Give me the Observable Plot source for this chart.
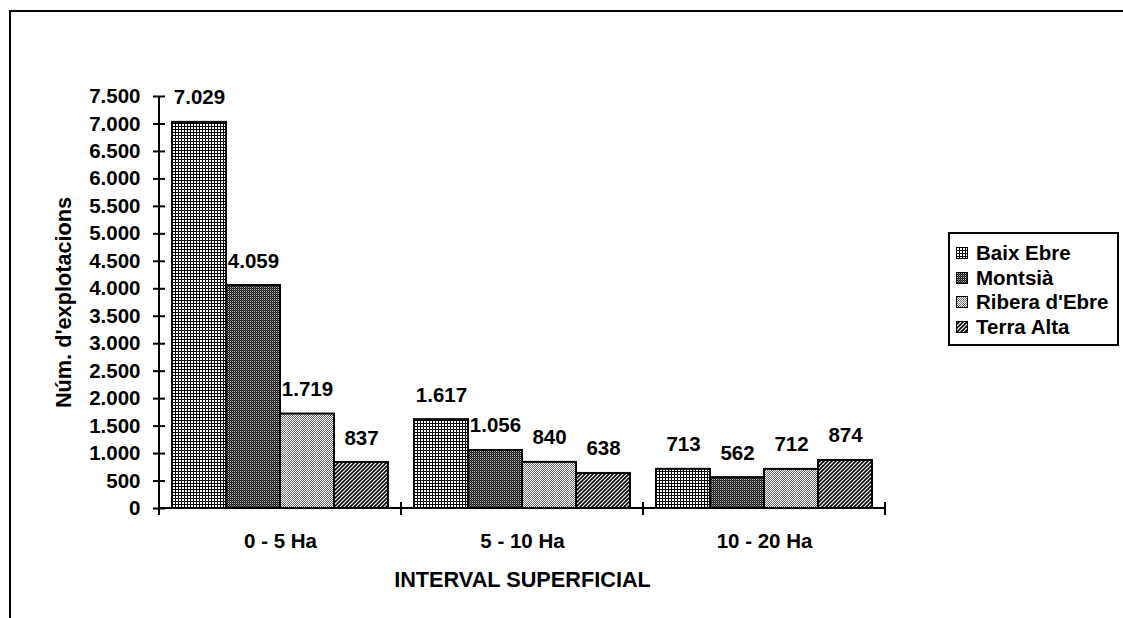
<!DOCTYPE html>
<html>
<head>
<meta charset="utf-8">
<script src="https://cdn.jsdelivr.net/npm/d3@7"></script>
<script src="https://cdn.jsdelivr.net/npm/@observablehq/plot@0.6"></script>
<style>
  html, body { margin: 0; padding: 0; background: #fff; overflow: hidden; width: 1123px; height: 618px; }
  #wrap { position: relative; width: 1123px; height: 618px; }
  #frame { position: absolute; left: 9px; top: 10px; width: 1300px; height: 800px; border-left: 2px solid #000; border-top: 2px solid #000; pointer-events: none; }
  #legend { position: absolute; left: 948px; top: 232px; width: 171px; height: 114px; box-sizing: border-box; border: 2px solid #000; background: #fff; padding: 7px 0 0 6px; font-family: 'Liberation Sans', Arial, sans-serif; font-weight: bold; font-size: 20.5px; }
  .item { display: flex; align-items: center; height: 24.5px; white-space: nowrap; }
  .item svg { margin-right: 8px; flex: none; }
</style>
</head>
<body>
<svg width="0" height="0" style="position:absolute">
  <defs>
    <pattern id="p0" width="3" height="3" patternUnits="userSpaceOnUse">
      <rect width="3" height="3" fill="#fff"/>
      <rect width="3" height="1" fill="#000"/>
      <rect width="1" height="3" fill="#000"/>
    </pattern>
    <pattern id="p1" width="2" height="2" patternUnits="userSpaceOnUse">
      <rect width="2" height="2" fill="#111"/>
      <rect x="1" y="1" width="1" height="1" fill="#bbb"/>
      <rect x="0" y="0" width="1" height="1" fill="#555"/>
    </pattern>
    <pattern id="p2" width="2" height="2" patternUnits="userSpaceOnUse">
      <rect width="2" height="2" fill="#fff"/>
      <rect x="0" y="0" width="1" height="1" fill="#6a6a6a"/>
      <rect x="1" y="1" width="1" height="1" fill="#6a6a6a"/>
    </pattern>
    <pattern id="p3" width="4" height="4" patternUnits="userSpaceOnUse">
      <rect width="4" height="4" fill="#fff"/>
      <path d="M-1,5 L5,-1 M-1,1 L1,-1 M3,5 L5,3" stroke="#000" stroke-width="1.6"/>
    </pattern>
  </defs>
</svg>
<div id="wrap">
  <div id="chart"></div>
  <div id="frame"></div>
  <div id="legend"></div>
</div>
<script>
// ---- data ----
const groups = ["0 - 5 Ha", "5 - 10 Ha", "10 - 20 Ha"];
const series = ["Baix Ebre", "Montsià", "Ribera d'Ebre", "Terra Alta"];
const baixEbre  = [7029, 1617, 713];
const montsia   = [4059, 1056, 562];
const riberaEbre = [1719, 840, 712];
const terraAlta = [837, 638, 874];
const yTicks = [0, 500, 1000, 1500, 2000, 2500, 3000, 3500, 4000, 4500, 5000, 5500, 6000, 6500, 7000, 7500];
const patterns = ["url(#p0)", "url(#p1)", "url(#p2)", "url(#p3)"];

const seriesValues = [baixEbre, montsia, riberaEbre, terraAlta];
const data = [];
groups.forEach((g, gi) => series.forEach((s, si) => data.push({group: g, series: s, value: seriesValues[si][gi]})));

const fmt = d3.formatLocale({decimal: ",", thousands: ".", grouping: [3], currency: ["", ""]}).format(",");
const FONT = "'Liberation Sans', Arial, sans-serif";
const FS = 20.5;   // tick labels, data labels, category labels
const FT = 21.7;   // axis titles

const chart = Plot.plot({
  width: 1123,
  height: 618,
  marginLeft: 158,
  marginRight: 238,
  marginTop: 96,
  marginBottom: 110,
  style: {fontFamily: FONT, fontWeight: "bold", fontSize: FS + "px", color: "#000", background: "transparent", overflow: "visible"},
  fx: {domain: groups, padding: 0},
  x: {domain: series, paddingInner: 0, paddingOuter: 0.24, axis: null},
  y: {domain: [0, 7500]},
  color: {domain: series, range: patterns},
  marks: [
    Plot.barY(data, {fx: "group", x: "series", y: "value", fill: "series", stroke: "#000", strokeWidth: 2}),
    Plot.text(data, {fx: "group", x: "series", y: "value", text: d => fmt(d.value), lineAnchor: "bottom", dy: -18, fontSize: FS, fontWeight: "bold", fill: "#000"}),
    Plot.axisY({ticks: yTicks, tickSize: 12, dx: 6, tickFormat: () => "", strokeWidth: 2, label: null}),
    Plot.axisY({ticks: yTicks, tickSize: 0, tickPadding: 19, tickFormat: fmt, fontSize: FS, fontWeight: "bold", fill: "#000", label: null}),
    Plot.axisY({ticks: [], tickSize: 0, fontSize: FT, fontWeight: "bold", fill: "#000",
      label: "Núm. d'explotacions", labelArrow: "none", labelAnchor: "center", labelOffset: 104}),
    Plot.axisFx({anchor: "bottom", tickSize: 0, tickPadding: 25, fontSize: FS, fontWeight: "bold", fill: "#000", label: null}),
    Plot.axisFx({anchor: "bottom", tickSize: 0, tickFormat: () => "", fontSize: FT, fontWeight: "bold", fill: "#000",
      label: "INTERVAL SUPERFICIAL", labelAnchor: "center", labelOffset: 78})
  ]
});
document.getElementById("chart").appendChild(chart);

// axis lines and category boundary ticks, positioned from the chart's own scales
const fx = chart.scale("fx"), y = chart.scale("y");
const x0 = fx.apply(groups[0]);
const xEnd = fx.apply(groups[groups.length - 1]) + fx.bandwidth;
const yBase = y.apply(0), yTop = y.apply(yTicks[yTicks.length - 1]);
const svg = d3.select(chart.tagName.toLowerCase() === "svg" ? chart : chart.querySelector("svg"));
const g = svg.append("g").attr("stroke", "#000").attr("stroke-width", 2);
g.append("line").attr("x1", x0).attr("x2", x0).attr("y1", yTop).attr("y2", yBase);
g.append("line").attr("x1", x0).attr("x2", xEnd).attr("y1", yBase).attr("y2", yBase);
const bounds = groups.map(d => fx.apply(d)).concat([xEnd]);
g.selectAll(".bt").data(bounds).join("line").attr("x1", d => d).attr("x2", d => d).attr("y1", yBase - 6).attr("y2", yBase + 7);

// legend
const legend = d3.select("#legend");
series.forEach((s, i) => {
  const item = legend.append("div").attr("class", "item");
  const sw = item.append("svg").attr("width", 12).attr("height", 12);
  sw.append("rect").attr("x", 0.5).attr("y", 0.5).attr("width", 11).attr("height", 11).attr("fill", patterns[i]).attr("stroke", "#000").attr("stroke-width", 1);
  item.append("span").text(s);
});
</script>
</body>
</html>
